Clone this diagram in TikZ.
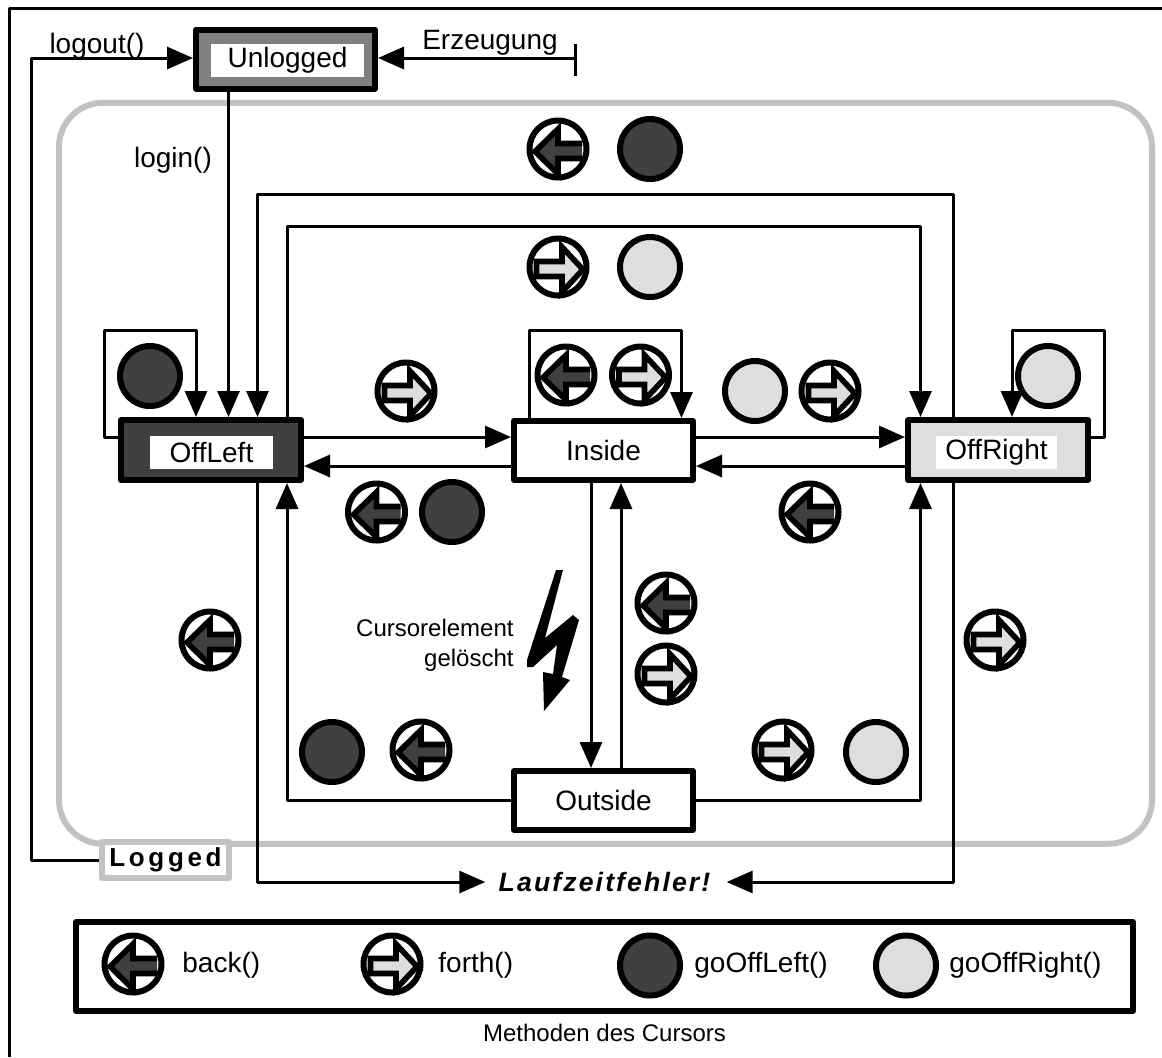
\documentclass[tikz,border=0pt]{standalone}
\usepackage{fontspec}
\setmainfont{Liberation Sans}
\usetikzlibrary{arrows.meta, positioning}
\definecolor{darkfill}{gray}{0.25}
\definecolor{lightfill}{gray}{0.87}
\definecolor{midfill}{gray}{0.5}
\definecolor{regiongray}{gray}{0.76}
\tikzset{
  conn/.style={line width=1.5pt, -{Triangle[length=13pt,width=11pt]}},
  plainline/.style={line width=1.5pt},
  statebox/.style={draw, line width=3pt, minimum width=89.5pt, minimum height=29.5pt, inner sep=0pt, font=\fontsize{14}{16}\selectfont},
  statelabel/.style={fill=white, inner sep=0pt, minimum height=16.5pt, font=\fontsize{14}{16}\selectfont},
  txt/.style={inner sep=0pt, font=\fontsize{14}{16}\selectfont},
  darkball/.style={circle, draw, line width=3pt, fill=darkfill, minimum size=30pt, inner sep=0pt},
  lightball/.style={circle, draw, line width=3pt, fill=lightfill, minimum size=30pt, inner sep=0pt},
  backicon/.pic={
    \fill[white] (0,0) circle (28.5);
    \draw[line width=2.8pt, fill=darkfill, line join=miter] (24,-5.5) -- (0,-5.5) -- (0,-20) -- (-23,2.5) -- (0,25) -- (0,9.5) -- (24,9.5);
    \draw[line width=3pt] (0,0) circle (28.5);
  },
  forthicon/.pic={
    \fill[white] (0,0) circle (28.5);
    \draw[line width=2.8pt, fill=lightfill, line join=miter] (-21.5,-5.5) -- (4,-5.5) -- (4,-20) -- (25,2.5) -- (4,25) -- (4,9.5) -- (-21.5,9.5) -- cycle;
    \draw[line width=3pt] (0,0) circle (28.5);
  }
}
\begin{document}
\begin{tikzpicture}[line join=round, x=0.5pt, y=-0.5pt]
  \useasboundingbox (0,0) rectangle (1162,1057);
  \draw[line width=1.5pt] (9,1057) -- (9,8) -- (1162,8);   % page frame

  % logged region
  \node[draw=regiongray, line width=3pt, rounded corners=22pt, minimum width=546.5pt, minimum height=370.5pt, inner sep=0pt] (region) at (605.5,473.3) {};

  % states
  \node[statebox, fill=midfill, minimum width=89.5pt] (unlogged) at (285.5,59) {};
  \node[statelabel, minimum width=76.5pt] (unloggedlabel) at (287.5,60.5) {Unlogged};
  \node[statebox, fill=darkfill, minimum width=90pt, minimum height=30pt] (offleft) at (211,450) {};
  \node[statelabel, minimum width=61.5pt] (offleftlabel) at (211.5,452.5) {OffLeft};
  \node[statebox] (inside) at (603.5,450.5) {Inside};
  \node[statebox, fill=lightfill, minimum width=90pt, minimum height=30pt] (offright) at (998,450) {};
  \node[statelabel, minimum width=60.5pt] (offrightlabel) at (996.5,452.5) {OffRight};
  \node[statebox] (outside) at (603.5,800.5) {Outside};
  \node[draw=regiongray, fill=white, line width=3pt, minimum width=63.5pt, minimum height=18pt, inner sep=0pt, font=\fontsize{13}{15}\selectfont\bfseries\addfontfeature{LetterSpace=14}] (logged) at (165.5,860) {Logged};
  \node[inner sep=0pt, font=\fontsize{13.3}{15}\selectfont\bfseries\itshape\addfontfeature{LetterSpace=8}] (fehler) at (604.5,882) {Laufzeitfehler!};

  % login and logout
  \coordinate (start) at (575,58);
  \draw[conn] (start) -- (unlogged.east |- start);
  \draw[plainline] (575,44) -- (575,76);   % tick
  \draw[conn] (logged.west) -- (31,860) -- (31,58) -- (unlogged.west |- 0,58);
  \draw[conn] (unlogged.south -| 228.5,0) -- (offleft.north -| 228.5,0);
  \node[txt] (logoutlabel) at (97,46) {logout()};
  \node[txt] (erzeugunglabel) at (490,43) {Erzeugung};
  \node[txt] (loginlabel) at (173,160) {login()};

  % upper connectors
  \draw[conn] (offright.north -| 953,0) -- (953,194) -- (257.5,194) -- (offleft.north -| 257.5,0);
  \draw[conn] (offleft.north -| 287,0) -- (287,226) -- (920.5,226) -- (offright.north -| 920.5,0);

  % self loops
  \draw[conn] (offleft.west |- 0,437) -- (104.5,437) -- (104.5,330) -- (196,330) -- (offleft.north -| 196,0);
  \draw[conn] (inside.north -| 529.5,0) -- (529.5,330) -- (681.5,330) -- (inside.north -| 681.5,0);
  \draw[conn] (offright.east |- 0,437) -- (1104,437) -- (1104,330) -- (1012,330) -- (offright.north -| 1012,0);

  % horizontal connectors
  \draw[conn] (offleft.east |- 0,437) -- (inside.west |- 0,437);
  \draw[conn] (inside.west |- 0,466) -- (offleft.east |- 0,466);
  \draw[conn] (inside.east |- 0,437) -- (offright.west |- 0,437);
  \draw[conn] (offright.west |- 0,466) -- (inside.east |- 0,466);

  % inside and outside
  \draw[conn] (inside.south -| 591,0) -- (outside.north -| 591,0);
  \draw[conn] (outside.north -| 621,0) -- (inside.south -| 621,0);
  \draw[conn] (outside.west) -- (287,800.5) -- (offleft.south -| 287,0);
  \draw[conn] (outside.east) -- (920.5,800.5) -- (offright.south -| 920.5,0);

  % runtime error
  \draw[conn] (offleft.south -| 257.5,0) -- (257.5,882) -- ([xshift=-6.5pt]fehler.west);
  \draw[conn] (offright.south -| 953,0) -- (953,882) -- ([xshift=8pt]fehler.east);

  % flash
  \fill (556,570) -- (563,570) -- (545,638) -- (573,615) -- (579,620) -- (562,677) -- (570,680) -- (544,711) -- (543,672) -- (553,674) -- (557,645) -- (533,667) -- (527,667) -- (527,660) -- cycle;
  \node[txt, align=right, anchor=east, font=\fontsize{12}{15}\selectfont] (flashlabel) at (514,645) {Cursorelement\\gelöscht};

  % icons
  \pic at (558,149) {backicon};
  \node[darkball] (balltop) at (650,149) {};
  \pic at (558,267) {forthicon};
  \node[lightball] (ballsecond) at (650,267) {};
  \node[darkball] (ballleft) at (150,376) {};
  \pic at (406,391) {forthicon};
  \pic at (566,375) {backicon};
  \pic at (640.5,375) {forthicon};
  \node[lightball] (ballinside) at (755,391) {};
  \pic at (830,391) {forthicon};
  \node[lightball] (ballright) at (1048,376) {};
  \pic at (376.5,512) {backicon};
  \node[darkball] (ballback) at (452,512) {};
  \pic at (810,512) {backicon};
  \pic at (210,640) {backicon};
  \pic at (995,640) {forthicon};
  \pic at (666,603) {backicon};
  \pic at (666,674) {forthicon};
  \node[darkball] (ballbottom) at (332,752) {};
  \pic at (421,750) {backicon};
  \pic at (783,750) {forthicon};
  \node[lightball] (ballbottomright) at (876,752) {};

  % legend
  \node[draw, line width=3pt, minimum width=528.5pt, minimum height=44.5pt, inner sep=0pt] (legend) at (604.5,966.5) {};
  \pic at (133,964) {backicon};
  \node[txt, anchor=west] (backlabel) at (182,965) {back()};
  \pic at (392,964) {forthicon};
  \node[txt, anchor=west] (forthlabel) at (438,965) {forth()};
  \node[darkball] (balllegendleft) at (650,965.5) {};
  \node[txt, anchor=west] (goleftlabel) at (694,965) {goOffLeft()};
  \node[lightball] (balllegendright) at (906,965.5) {};
  \node[txt, anchor=west] (gorightlabel) at (949,965) {goOffRight()};
  \node[txt, font=\fontsize{12}{14}\selectfont] (legendlabel) at (604.5,1033) {Methoden des Cursors};
\end{tikzpicture}
\end{document}
